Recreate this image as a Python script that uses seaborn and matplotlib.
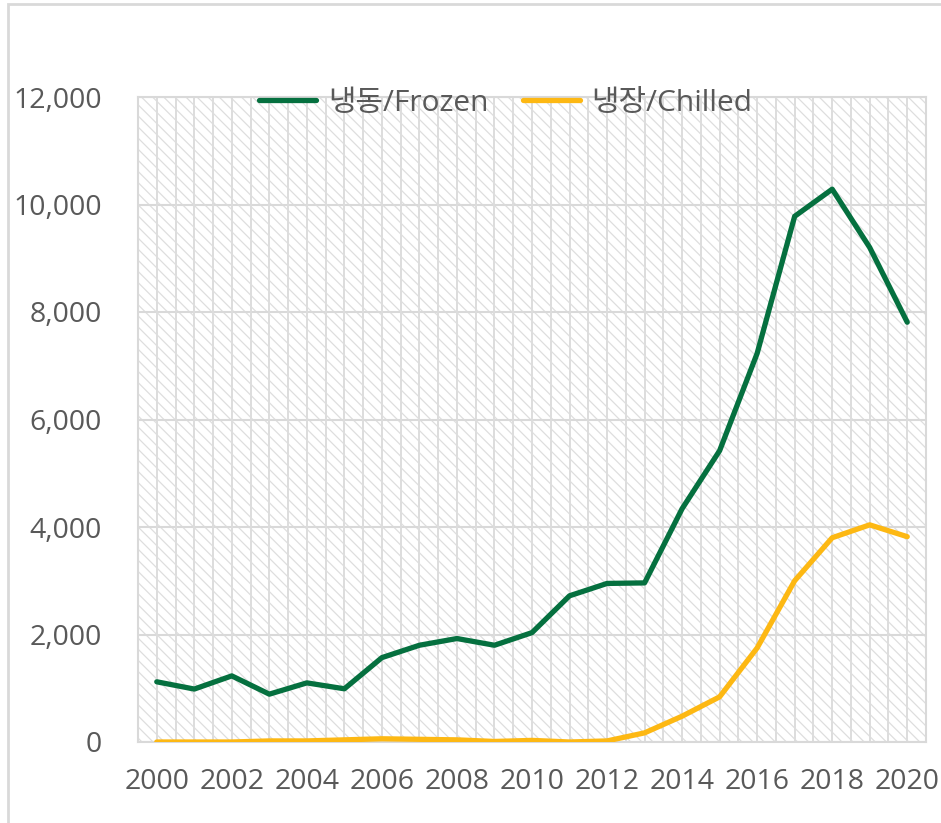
import matplotlib
matplotlib.use("Agg")
import matplotlib.pyplot as plt
import numpy as np
import pandas as pd
import seaborn as sns
from matplotlib.patches import Rectangle
from matplotlib.ticker import FuncFormatter

years = list(range(2000, 2021))
frozen = [1120, 985, 1230, 890, 1100, 990, 1570, 1800, 1925, 1800, 2035,
          2720, 2950, 2960, 4340, 5420, 7230, 9780, 10285, 9200, 7810]
chilled = [0, 0, 0, 20, 20, 40, 60, 50, 40, 10, 30,
           0, 20, 170, 480, 840, 1750, 3000, 3800, 4040, 3820]
labels = ['냉동/Frozen', '냉장/Chilled']
colors = ['#05703f', '#fdb813']

df = pd.DataFrame({'year': years * 2,
                   'value': frozen + chilled,
                   'kind': [labels[0]] * len(years) + [labels[1]] * len(years)})

sns.set_theme(style='white')
plt.rcParams['font.family'] = ['Open Sans', 'Noto Sans CJK KR', 'DejaVu Sans']
plt.rcParams['hatch.linewidth'] = 0.9

fig = plt.figure(figsize=(9.41, 8.23), dpi=100)
ax = fig.add_axes([138 / 941, 81 / 823, 788 / 941, 645 / 823])

# hatched plot background
ax.add_patch(Rectangle((0, 0), 1, 1, transform=ax.transAxes, facecolor='white',
                       edgecolor='#dedede', linewidth=0, hatch='\\' * 3, zorder=0))

sns.lineplot(data=df, x='year', y='value', hue='kind', palette=colors,
             linewidth=3.8, ax=ax, zorder=3)

ax.set_xlim(1999.5, 2020.5)
ax.set_ylim(0, 12000)
ax.set_xticks(years[::2])
ax.set_yticks(range(0, 12001, 2000))
ax.yaxis.set_major_formatter(FuncFormatter(lambda v, p: f'{int(v):,}'))

# grid: horizontal at ticks, vertical every half year
for v in range(0, 12001, 2000):
    ax.axhline(v, color='#d9d9d9', lw=1.5, zorder=1)
for xv in np.arange(1999.5, 2020.6, 0.5):
    ax.axvline(xv, color='#dddddd', lw=1.4, zorder=1)

for s in ax.spines.values():
    s.set_color('#d9d9d9')
    s.set_linewidth(1.5)

ax.tick_params(axis='both', length=0, labelsize=20.5, labelcolor='#595959')
ax.tick_params(axis='y', pad=26)
ax.tick_params(axis='x', pad=19)
ax.set_xlabel('')
ax.set_ylabel('')

leg = ax.legend(loc='center', bbox_to_anchor=(0.467, 0.99), ncol=2, frameon=False,
                fontsize=21.5, handlelength=1.9, columnspacing=1.15, handletextpad=0.4)
for t in leg.get_texts():
    t.set_color('#595959')

# outer chart border
fig.patches.append(Rectangle((8 / 941, -0.1), 1.2, 1.1 - 4 / 823, transform=fig.transFigure,
                             facecolor='none', edgecolor='#d9d9d9', lw=2, zorder=0))

fig.savefig('out.png', dpi=100)
